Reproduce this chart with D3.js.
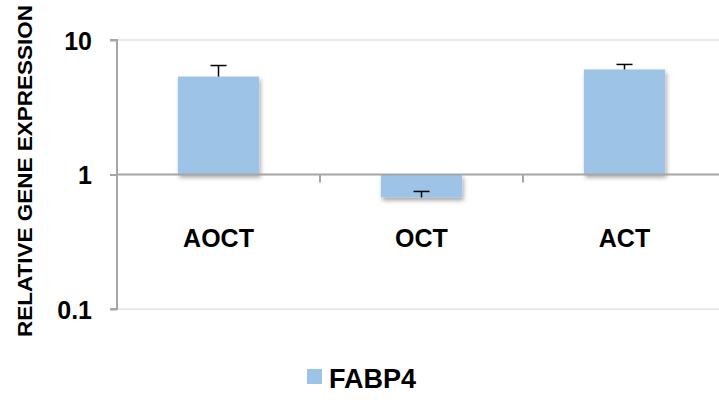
<!DOCTYPE html>
<html>
<head>
<meta charset="utf-8">
<script src="https://cdn.jsdelivr.net/npm/d3@7"></script>
<style>
  html, body { margin: 0; padding: 0; background: #fff; }
  svg { display: block; }
  text { font-family: "Liberation Sans", Arial, sans-serif; font-weight: bold; fill: #000; }
</style>
</head>
<body>
<svg id="chart" width="719" height="400"></svg>
<script>
// Relative FABP4 expression per treatment group (log scale, baseline 1)
const categories = ["AOCT", "OCT", "ACT"];
const values = [5.35, 0.675, 6.04];
const errorsUpper = [6.46, 0.748, 6.58];
const yTicks = [0.1, 1, 10];
const yTickLabels = ["0.1", "1", "10"];
const seriesName = "FABP4";
const yTitle = "RELATIVE GENE EXPRESSION";

const svg = d3.select("#chart");
const barColor = "#9dc3e6";
const axisColor = "#a6a6a6";

const defs = svg.append("defs");
const shadow = defs.append("filter").attr("id", "shadow")
  .attr("x", "-20%").attr("y", "-20%").attr("width", "140%").attr("height", "160%");
shadow.append("feDropShadow")
  .attr("dx", 1.5).attr("dy", 3).attr("stdDeviation", 2)
  .attr("flood-color", "#000").attr("flood-opacity", 0.35);

const plotLeft = 117, plotRight = 726, plotTop = 40, plotBottom = 309;

const y = d3.scaleLog().domain([0.1, 10]).range([plotBottom, plotTop]);
const x = d3.scaleBand().domain(categories).range([plotLeft, plotRight])
  .paddingInner(0.6).paddingOuter(0.3);
const step = x.step();

// light gridlines at the outer decades
svg.append("g").selectAll("line")
  .data(yTicks.filter(v => v !== 1))
  .join("line")
  .attr("x1", plotLeft).attr("x2", plotRight)
  .attr("y1", d => y(d)).attr("y2", d => y(d))
  .attr("stroke", "#e3e3e3").attr("stroke-width", 1.5);

// bars grow from the baseline at 1
svg.append("g").selectAll("rect")
  .data(categories.map((c, i) => ({ c, v: values[i], e: errorsUpper[i] })))
  .join("rect")
  .attr("x", d => x(d.c))
  .attr("width", x.bandwidth())
  .attr("y", d => Math.min(y(d.v), y(1)))
  .attr("height", d => Math.abs(y(d.v) - y(1)))
  .attr("fill", barColor)
  .attr("filter", "url(#shadow)");

// error bars (upper direction)
const eg = svg.append("g").attr("stroke", "#000").attr("stroke-width", 1.5);
categories.forEach((c, i) => {
  const cx = x(c) + x.bandwidth() / 2;
  eg.append("line").attr("x1", cx).attr("x2", cx)
    .attr("y1", y(values[i])).attr("y2", y(errorsUpper[i]));
  eg.append("line").attr("x1", cx - 8).attr("x2", cx + 8)
    .attr("y1", y(errorsUpper[i])).attr("y2", y(errorsUpper[i]));
});

// horizontal axis crossing at 1, with category separator ticks
svg.append("line")
  .attr("x1", plotLeft).attr("x2", plotRight)
  .attr("y1", y(1)).attr("y2", y(1))
  .attr("stroke", axisColor).attr("stroke-width", 2);
svg.append("g").selectAll("line")
  .data(categories.slice(1))
  .join("line")
  .attr("x1", d => x(d) - step * 0.3).attr("x2", d => x(d) - step * 0.3)
  .attr("y1", y(1)).attr("y2", y(1) + 8)
  .attr("stroke", axisColor).attr("stroke-width", 2);

// vertical axis
const yAxis = d3.axisLeft(y)
  .tickValues(yTicks)
  .tickFormat((d, i) => yTickLabels[i])
  .tickSize(7)
  .tickPadding(18);
const ga = svg.append("g").attr("transform", `translate(${plotLeft},0)`).call(yAxis);
ga.select(".domain").attr("stroke", axisColor).attr("stroke-width", 2)
  .attr("d", `M-7,${plotTop}H0V${plotBottom}H-7`);
ga.selectAll(".tick line").attr("stroke", axisColor).attr("stroke-width", 2);
ga.selectAll(".tick text")
  .attr("font-size", 25).attr("font-family", "Liberation Sans, Arial, sans-serif")
  .attr("font-weight", "bold").attr("fill", "#000").attr("dy", "0.36em");

// category labels
svg.append("g").selectAll("text")
  .data(categories)
  .join("text")
  .attr("x", d => x(d) + x.bandwidth() / 2)
  .attr("y", 247)
  .attr("text-anchor", "middle")
  .attr("font-size", 25)
  .text(d => d);

// axis title
svg.append("text")
  .attr("transform", "translate(32,171) rotate(-90)")
  .attr("text-anchor", "middle")
  .attr("font-size", 21)
  .attr("textLength", 332)
  .attr("lengthAdjust", "spacingAndGlyphs")
  .text(yTitle);

// legend
const lg = svg.append("g");
lg.append("rect").attr("x", 307).attr("y", 369).attr("width", 15).attr("height", 15).attr("fill", barColor);
lg.append("text").attr("x", 329).attr("y", 388).attr("font-size", 27).text(seriesName);
</script>
</body>
</html>
